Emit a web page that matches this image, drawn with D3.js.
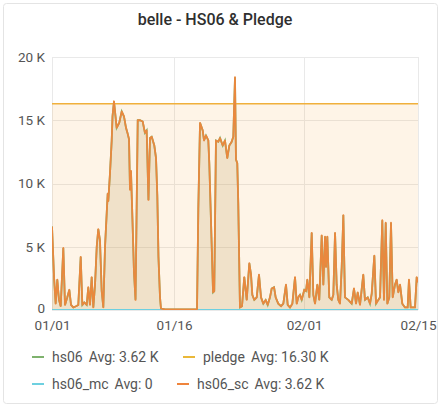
<!DOCTYPE html>
<html>
<head>
<meta charset="utf-8">
<script src="https://cdn.jsdelivr.net/npm/d3@7"></script>
<style>
  html, body { margin: 0; padding: 0; background: #fff; }
  svg { display: block; font-family: Roboto, "Noto Sans", sans-serif; }
</style>
</head>
<body>
<svg id="chart" width="438" height="404"></svg>
<script>
// ---- data ----
const title = "belle - HS06 & Pledge";
const startDate = "2019-01-01";
// days since 01/01
const dayOffsets = [0,0.25,0.45,0.65,0.86,1.07,1.39,1.60,1.88,2.13,2.34,2.62,2.95,3.23,3.53,3.73,3.97,4.27,4.46,4.67,4.88,5.08,5.29,5.50,5.69,5.90,6.11,6.31,6.52,6.73,6.85,6.92,7.13,7.34,7.44,7.62,7.81,7.95,8.27,8.57,8.85,9.10,9.28,9.47,9.59,9.71,9.90,10.08,10.27,10.54,10.82,11.15,11.43,11.64,11.86,12.05,12.26,12.58,12.79,12.95,13.09,13.28,13.40,13.90,15.12,16.35,17.83,17.99,18.20,18.53,18.69,18.93,19.22,19.34,19.64,19.80,19.95,20.16,20.45,20.66,20.99,21.27,21.55,21.80,22.09,22.29,22.50,22.62,22.78,22.90,23.11,23.36,23.64,23.94,24.26,24.47,24.63,24.87,25.17,25.45,25.70,25.98,26.27,26.52,26.80,27.01,27.30,27.50,27.82,28.16,28.44,28.77,28.98,29.26,29.55,29.88,30.09,30.28,30.49,30.70,31.02,31.23,31.39,31.64,31.93,32.13,32.34,32.62,32.86,33.16,33.36,33.57,33.69,33.85,34.09,34.39,34.59,34.80,35.00,35.20,35.41,35.62,35.82,36.02,36.43,36.85,37.13,37.38,37.59,37.87,38.27,38.48,38.82,39.10,39.31,39.63,39.84,40.12,40.33,40.61,40.82,41.03,41.23,41.47,41.68,41.89,42.17,42.38,42.58,42.79,43.07,43.40,43.73,43.89,44.10,44.42,44.63,44.84,45.00];
// hs06_sc values, thousands
const hs06scK = [6.6,2.6,0.5,2.4,0.8,0.3,4.9,0.4,1.0,1.6,0.4,0.2,0.3,0.4,4.2,0.4,0.6,0.4,1.8,0.4,2.6,0.2,2.0,5.0,6.4,5.5,1.5,0.2,5.0,7.7,9.2,8.6,10.8,13.4,15.3,16.5,15.3,14.4,14.8,15.7,15.3,14.4,14.0,13.5,9.5,11.0,7.0,3.0,0.8,15.0,15.0,14.9,14.0,14.2,8.7,13.6,13.7,13.0,12.0,9.0,4.2,1.0,0.1,0.05,0.05,0.05,0.05,8.0,14.8,14.2,13.4,13.8,13.4,11.6,5.0,1.4,1.5,13.4,13.3,13.6,13.0,13.4,12.0,13.0,13.3,13.7,18.4,11.9,11.6,8.5,0.2,0.3,2.6,0.8,3.7,2.8,1.2,0.8,1.0,2.8,1.0,0.5,0.8,0.4,1.0,1.7,1.8,1.0,0.5,0.3,0.5,2.0,0.4,0.2,0.5,2.6,0.5,1.0,1.2,0.8,1.6,1.5,2.4,1.0,6.1,1.2,0.5,2.0,0.8,5.9,2.0,5.8,3.4,5.8,1.0,0.8,1.2,6.1,2.0,0.8,0.5,3.4,7.5,1.0,0.8,0.5,1.7,0.5,1.4,0.4,2.8,0.8,1.0,0.5,1.3,4.3,0.5,0.8,1.0,7.1,0.8,6.9,0.5,1.0,6.9,1.0,2.0,2.4,1.4,2.0,0.5,0.2,0.2,2.4,0.2,0.2,0.2,2.6,2.2];
const hs06K = hs06scK.slice();           // hs06 equals hs06_sc (same average)
const hs06mcK = dayOffsets.map(() => 0);  // hs06_mc is 0 everywhere
const pledgeK = 16.3;

const yTicks = [0, 5, 10, 15, 20];
const yTickLabels = ["0", "5 K", "10 K", "15 K", "20 K"];
const xTickDates = ["2019-01-01", "2019-01-16", "2019-02-01", "2019-02-15"];
const xTickLabels = ["01/01", "01/16", "02/01", "02/15"];
const endDate = "2019-02-15";

const legendNames = ["hs06", "pledge", "hs06_mc", "hs06_sc"];
const legendAvgs = ["3.62 K", "16.30 K", "0", "3.62 K"];
const colors = { hs06: "#7eb26d", pledge: "#eab839", hs06_mc: "#6ed0e0", hs06_sc: "#ef843c" };

// ---- layout ----
const W = 438, H = 404;
const m = { left: 52, right: 20, top: 57, bottom: 94 };
const svg = d3.select("#chart");

const parse = d3.utcParse("%Y-%m-%d");
const t0 = parse(startDate);
const dates = dayOffsets.map(d => new Date(t0.getTime() + d * 86400000));

const x = d3.scaleUtc().domain([parse(startDate), parse(endDate)]).range([m.left, W - m.right]);
const y = d3.scaleLinear().domain([0, 20]).range([H - m.bottom, m.top]);

// panel border
svg.append("rect").attr("x", 3.5).attr("y", 3.5).attr("width", W - 4).attr("height", H - 4)
  .attr("rx", 3).attr("fill", "#fff").attr("stroke", "#e4e4e4");

// title
svg.append("text").attr("x", 215).attr("y", 25).attr("text-anchor", "middle")
  .attr("font-size", 16).attr("font-weight", 500).attr("fill", "#2f2f2f").text(title);

// grid
const grid = svg.append("g").attr("stroke", "#e9e9e9").attr("stroke-width", 1);
yTicks.forEach(v => grid.append("line").attr("x1", m.left).attr("x2", W - m.right)
  .attr("y1", Math.round(y(v)) + 0.5).attr("y2", Math.round(y(v)) + 0.5));
xTickDates.forEach(s => grid.append("line").attr("y1", m.top).attr("y2", H - m.bottom)
  .attr("x1", Math.round(x(parse(s))) + 0.5).attr("x2", Math.round(x(parse(s))) + 0.5));

// axes
const yAxis = d3.axisLeft(y).tickValues(yTicks).tickSize(0).tickPadding(7)
  .tickFormat((d, i) => yTickLabels[i]);
const gy = svg.append("g").attr("transform", `translate(${m.left},0)`).call(yAxis);
gy.select(".domain").remove();
gy.selectAll("text").attr("font-size", 13.5).attr("fill", "#555").attr("font-family", "Roboto, sans-serif");
gy.selectAll(".tick").filter(d => d === 0).select("text").attr("dy", "0.2em");

const xAxis = d3.axisBottom(x).tickValues(xTickDates.map(parse)).tickSize(0).tickPadding(10)
  .tickFormat((d, i) => xTickLabels[i]);
const gx = svg.append("g").attr("transform", `translate(0,${H - m.bottom})`).call(xAxis);
gx.select(".domain").remove();
gx.selectAll("text").attr("font-size", 13.5).attr("fill", "#555").attr("font-family", "Roboto, sans-serif");

// series
svg.append("clipPath").attr("id", "plotclip").append("rect")
  .attr("x", m.left).attr("y", m.top - 2).attr("width", W - m.left - m.right).attr("height", H - m.top - m.bottom + 2);
const plot = svg.append("g").attr("clip-path", "url(#plotclip)");

const area = d3.area().x(d => x(d[0])).y0(y(0)).y1(d => y(d[1]));
const line = d3.line().x(d => x(d[0])).y(d => y(d[1]));

const hs06Pts = dates.map((d, i) => [d, hs06K[i]]);
const scPts = dates.map((d, i) => [d, hs06scK[i]]);
const mcPts = dates.map((d, i) => [d, hs06mcK[i]]);
const pledgePts = [[parse(startDate), pledgeK], [parse(endDate), pledgeK]];

// fills
plot.append("path").datum(pledgePts).attr("d", area).attr("fill", "#f5a53c").attr("fill-opacity", 0.12);
plot.append("path").datum(hs06Pts).attr("d", area).attr("fill", colors.hs06).attr("fill-opacity", 0.1);
plot.append("path").datum(scPts).attr("d", area).attr("fill", colors.hs06_sc).attr("fill-opacity", 0.1);

// lines
plot.append("path").datum(hs06Pts).attr("d", line).attr("fill", "none").attr("stroke", colors.hs06).attr("stroke-width", 1.8);
plot.append("path").datum(pledgePts).attr("d", line).attr("fill", "none").attr("stroke", "#f0b03c").attr("stroke-width", 1.4);
plot.append("path").datum(mcPts).attr("d", line).attr("fill", "none").attr("stroke", colors.hs06_mc).attr("stroke-width", 1.8);
plot.append("path").datum(scPts).attr("d", line).attr("fill", "none").attr("stroke", "#e9883e")
  .attr("stroke-width", 1.8).attr("stroke-linejoin", "round");

// legend
const legendPos = [[32, 357], [183, 357], [32, 384], [177, 384]];
legendNames.forEach((n, i) => {
  const [lx, ly] = legendPos[i];
  const g = svg.append("g").attr("transform", `translate(${lx},${ly})`);
  g.append("line").attr("x1", 0).attr("x2", 12).attr("y1", 0).attr("y2", 0)
    .attr("stroke", colors[n]).attr("stroke-width", 2);
  const t = g.append("text").attr("x", 20).attr("y", 5).attr("font-size", 14).attr("fill", "#555");
  t.append("tspan").text(n);
  t.append("tspan").attr("dx", 6).text("Avg: " + legendAvgs[i]);
});
</script>
</body>
</html>
